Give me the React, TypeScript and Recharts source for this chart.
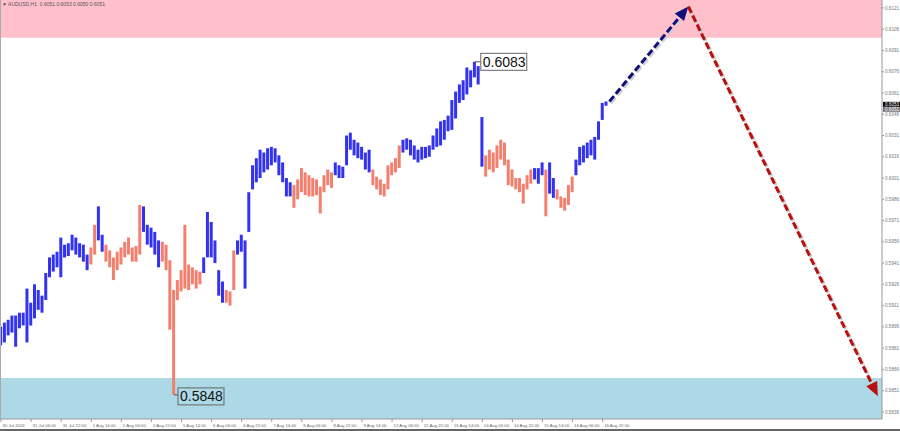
import React from "react";
import {
  Bar,
  Cell,
  ComposedChart,
  ReferenceArea,
  ReferenceDot,
  ReferenceLine,
  XAxis,
  YAxis,
} from "recharts";

// AUDUSD, read as 2-hour bars (high / low)
const highs = [
  0.5896, 0.5899, 0.5901, 0.5904, 0.5904, 0.5906, 0.5906, 0.5923, 0.5913, 0.5926,
  0.5922, 0.5918, 0.5934, 0.5945, 0.5947, 0.5949, 0.5959, 0.5954, 0.5955, 0.5961,
  0.5959, 0.5955, 0.5954, 0.5947, 0.5952, 0.5968, 0.5981, 0.5961, 0.5954, 0.595,
  0.5945, 0.5949, 0.5952, 0.5956, 0.5959, 0.5952, 0.5953, 0.5982, 0.5981, 0.5968,
  0.5966, 0.5963, 0.5957, 0.5956, 0.5954, 0.5943, 0.5922, 0.5929, 0.5936, 0.5968,
  0.594, 0.5938, 0.5936, 0.5935, 0.5945, 0.5977, 0.597, 0.5957, 0.5936, 0.5928,
  0.5922, 0.5921, 0.595, 0.5957, 0.5961, 0.5957, 0.5991, 0.601, 0.6015, 0.6021,
  0.6019, 0.6022, 0.6023, 0.6022, 0.6017, 0.6012, 0.6001, 0.5998, 0.5996, 0.6,
  0.6008, 0.6005, 0.6003, 0.6001, 0.6, 0.5995, 0.6003, 0.6007, 0.6005, 0.6012,
  0.601, 0.6009, 0.6031, 0.6033, 0.6028, 0.6026, 0.6023, 0.6019, 0.6021, 0.6007,
  0.6002, 0.6, 0.5997, 0.601, 0.6012, 0.6015, 0.6024, 0.6028, 0.6029, 0.6028,
  0.6024, 0.6021, 0.6023, 0.6023, 0.6024, 0.6031, 0.6036, 0.6041, 0.6042, 0.6045,
  0.6056, 0.6062, 0.6067, 0.607, 0.6079, 0.6077, 0.6083, 0.608, 0.6044, 0.6017,
  0.6021, 0.6019, 0.6024, 0.6028, 0.6026, 0.6014, 0.6007, 0.6001, 0.6001, 0.5997,
  0.6003, 0.6007, 0.6008, 0.6008, 0.6012, 0.6007, 0.6012, 0.6001, 0.5993, 0.5988,
  0.5987, 0.5996, 0.6002, 0.6014, 0.6023, 0.6024, 0.6026, 0.6028, 0.603, 0.6041,
  0.6054, 0.6055,
];

const lows = [
  0.5883, 0.5885, 0.589, 0.5892, 0.5882, 0.5895, 0.5897, 0.5885, 0.5897, 0.5902,
  0.5908, 0.5906, 0.5915, 0.5931, 0.5935, 0.5938, 0.5931, 0.5945, 0.5946, 0.595,
  0.5947, 0.5945, 0.5942, 0.5936, 0.594, 0.5947, 0.5957, 0.5949, 0.5942, 0.5938,
  0.5929, 0.5936, 0.594, 0.5945, 0.5947, 0.5942, 0.5942, 0.5947, 0.5963, 0.5954,
  0.5952, 0.5947, 0.5938, 0.5942, 0.5936, 0.5894, 0.5848, 0.5915, 0.5921, 0.5923,
  0.5922, 0.5926, 0.5923, 0.5926, 0.5934, 0.5945, 0.5945, 0.5941, 0.5918, 0.5913,
  0.5913, 0.5911, 0.5922, 0.5947, 0.5949, 0.5923, 0.5963, 0.5993, 0.5998, 0.6001,
  0.6005, 0.6007, 0.601, 0.6012, 0.6003, 0.5998, 0.5988, 0.5988, 0.598, 0.5986,
  0.5991, 0.5989, 0.5988, 0.5988, 0.5989, 0.5976, 0.5991, 0.5996, 0.5994, 0.6003,
  0.6001, 0.6001, 0.601, 0.6021, 0.6017, 0.6015, 0.6014, 0.6007, 0.6005, 0.5996,
  0.5993, 0.5989, 0.5988, 0.5993, 0.6003, 0.6005, 0.6008, 0.6019, 0.6021, 0.6017,
  0.6014, 0.6012, 0.6014, 0.6015, 0.6016, 0.6021, 0.6023, 0.6024, 0.6028, 0.6034,
  0.6035, 0.6043, 0.6054, 0.6056, 0.606, 0.6065, 0.6072, 0.6067, 0.6009, 0.6002,
  0.6007, 0.6005, 0.6008, 0.6014, 0.601, 0.5996, 0.5995, 0.5993, 0.5991, 0.5983,
  0.5993, 0.5997, 0.6, 0.5997, 0.6003, 0.5974, 0.599, 0.5987, 0.5986, 0.598,
  0.5978, 0.5982, 0.5991, 0.6003, 0.601, 0.6012, 0.6015, 0.6017, 0.6014, 0.6028,
  0.6042, 0.6052,
];

// b = rising wave (blue), s = falling wave (salmon)
const waves = (
  "bbbbbbbbbbbbbbbbbbbbbbbb ss bb ssssssssss bbbbb sssssssssss bbbbbb sss " +
  "bbbbbbbbbbbbbbb sssssssssss bbbbbbbbbb ssssssss bbbbbbbbbbbbbbbbbbbbbb " +
  "sssssssssssss bbb s bb sssss bbbbbbbbb"
).replace(/ /g, "");

const timeLabels = [
  "30 Jul 2024", "31 Jul 06:00", "31 Jul 22:00", "1 Aug 14:00", "2 Aug 06:00",
  "2 Aug 22:00", "5 Aug 14:00", "6 Aug 06:00", "6 Aug 22:00", "7 Aug 14:00",
  "8 Aug 06:00", "8 Aug 22:00", "9 Aug 14:00", "12 Aug 06:00", "12 Aug 22:00",
  "13 Aug 14:00", "14 Aug 06:00", "14 Aug 22:00", "15 Aug 14:00", "16 Aug 06:00",
  "16 Aug 22:00",
];

const priceTicks = [
  0.5836, 0.5851, 0.5866, 0.5881, 0.5896, 0.5911, 0.5926, 0.5941, 0.5956, 0.5971,
  0.5986, 0.6001, 0.6016, 0.6031, 0.6046, 0.6061, 0.6076, 0.6091, 0.6106, 0.6121,
];

const resistanceZone = [0.61, 0.61266];
const supportZone = [0.5831, 0.586];

// forecast arrows (bar index, price)
const forecast = [
  { i: 161.8, p: 0.6055 },
  { i: 182.8, p: 0.6122 },
  { i: 233.2, p: 0.5847 },
];

const extremes = [
  { i: 126, p: 0.6083, text: "0.6083", box: "right" },
  { i: 46, p: 0.5848, text: "0.5848", box: "low" },
];

const quotes = [
  { p: 0.6053, text: "0.6053", bg: "#000000" },
  { p: 0.6051, text: "0.6051", bg: "#777777" },
];

const BLUE = "#3232f0";
const SALMON = "#f3806e";
const FONT = "'Liberation Sans', Arial, sans-serif";

const bars = highs.map((h, i) => ({ i, range: [lows[i], h], up: waves[i] === "b" }));
const labelBars = timeLabels.map((_, k) => k * 8);

function arrowShape(color: string) {
  return (props: any) => {
    const { x1, y1, x2, y2 } = props;
    const dx = x2 - x1;
    const dy = y2 - y1;
    const len = Math.hypot(dx, dy);
    const ux = dx / len;
    const uy = dy / len;
    const head = 14;
    const half = 6;
    const bx = x2 - ux * head;
    const by = y2 - uy * head;
    const pts = `${x2},${y2} ${bx - uy * half},${by + ux * half} ${bx + uy * half},${by - ux * half}`;
    return (
      <g>
        <line x1={x1 + 1.5} y1={y1 + 1.5} x2={bx + 1.5} y2={by + 1.5} stroke="#cfcfcf" strokeWidth={3.5} strokeDasharray="7 3" />
        <line x1={x1} y1={y1} x2={bx} y2={by} stroke={color} strokeWidth={3} strokeDasharray="7 3" />
        <polygon points={pts} fill={color} />
      </g>
    );
  };
}

function extremeShape(text: string, box: string) {
  return (props: any) => {
    const { cx, cy } = props;
    const bx = box === "right" ? cx + 6 : cx + 4;
    const by = box === "right" ? cy - 8.5 : cy - 7;
    return (
      <g>
        <line x1={cx} y1={cy} x2={bx} y2={cy} stroke="#555" strokeWidth={1} />
        <rect x={bx} y={by} width={46} height={17} fill="#ffffff" fillOpacity={box === "right" ? 1 : 0} stroke="#666" strokeWidth={1} />
        <text x={bx + 2} y={by + 13.5} fontSize={14} fontFamily={FONT} fill="#111">
          {text}
        </text>
      </g>
    );
  };
}

function quoteShape(text: string, bg: string, offset: number) {
  return (props: any) => {
    const { x1, x2, y1 } = props;
    const right = Math.max(x1, x2);
    return (
      <g>
        <rect x={right + 1} y={y1 - 2.5 + offset} width={17} height={5} fill={bg} />
        <text x={right + 3} y={y1 + 1.6 + offset} fontSize={4.6} fontFamily={FONT} fill="#fff">
          {text}
        </text>
      </g>
    );
  };
}

const TimeTick = (props: any) => {
  const { x, y, payload } = props;
  const k = labelBars.indexOf(payload.value);
  return (
    <text x={x + 1.5} y={y + 4.5} fontSize={4.3} fontFamily={FONT} fill="#666" textAnchor="start">
      {timeLabels[k]}
    </text>
  );
};

const PriceTick = (props: any) => {
  const { x, y, payload } = props;
  return (
    <text x={x} y={y + 1.6} fontSize={4.6} fontFamily={FONT} fill="#777" textAnchor="start">
      {payload.value.toFixed(4)}
    </text>
  );
};

export default function App() {
  return (
    <div style={{ position: "fixed", left: 0, top: 0, width: 900, height: 431, background: "#ffffff", overflow: "hidden" }}>
      <ComposedChart width={900} height={431} data={bars} margin={{ top: 0, right: 0, bottom: 0, left: 0 }}>
        <XAxis
          type="number"
          dataKey="i"
          domain={[-0.27, 234.3]}
          allowDataOverflow
          ticks={labelBars}
          tick={<TimeTick />}
          tickSize={3}
          tickMargin={0}
          height={12}
          stroke="#999"
          interval={0}
        />
        <YAxis
          orientation="right"
          domain={[0.5831, 0.61266]}
          allowDataOverflow
          ticks={priceTicks}
          tick={<PriceTick />}
          tickSize={2}
          tickMargin={1}
          width={18}
          stroke="#999"
          interval={0}
        />
        <ReferenceArea y1={resistanceZone[0]} y2={resistanceZone[1]} fill="#ffc0cb" fillOpacity={1} stroke="none" ifOverflow="extendDomain" />
        <ReferenceArea y1={supportZone[0]} y2={supportZone[1]} fill="#add8e6" fillOpacity={1} stroke="none" ifOverflow="extendDomain" />
        <Bar dataKey="range" barSize={3} isAnimationActive={false}>
          {bars.map((b) => (
            <Cell key={b.i} fill={b.up ? BLUE : SALMON} />
          ))}
        </Bar>
        <ReferenceLine
          segment={[{ x: forecast[0].i, y: forecast[0].p }, { x: forecast[1].i, y: forecast[1].p }]}
          shape={arrowShape("#10107a")}
          ifOverflow="visible"
        />
        <ReferenceLine
          segment={[{ x: forecast[1].i, y: forecast[1].p }, { x: forecast[2].i, y: forecast[2].p }]}
          shape={arrowShape("#b80f0f")}
          ifOverflow="visible"
        />
        {extremes.map((e) => (
          <ReferenceDot key={e.text} x={e.i} y={e.p} shape={extremeShape(e.text, e.box)} ifOverflow="visible" />
        ))}
        {quotes.map((q, k) => (
          <ReferenceLine key={q.text} y={quotes[0].p} shape={quoteShape(q.text, q.bg, k * 5)} ifOverflow="visible" />
        ))}
      </ComposedChart>
      <div style={{ position: "absolute", left: 0, top: 0, width: 1, height: 419, background: "#aaa" }} />
      <div style={{ position: "absolute", left: 0, top: 429, width: 900, height: 2, background: "#666" }} />
      <div style={{ position: "absolute", left: 2, top: 1, fontSize: 5, color: "#555", fontFamily: FONT, whiteSpace: "pre" }}>
        {"▼ AUDUSD,H1  0.6051 0.6053 0.6050 0.6051"}
      </div>
    </div>
  );
}
